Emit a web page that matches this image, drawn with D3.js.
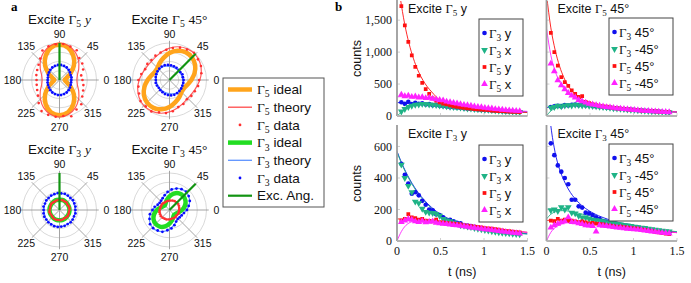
<!DOCTYPE html>
<html><head><meta charset="utf-8">
<script src="https://cdn.jsdelivr.net/npm/d3@7"></script>
<style>body{margin:0;background:#fff}svg{display:block}text{white-space:pre}</style>
</head><body>
<svg id="c" width="691" height="283"></svg>
<script>
// ---------------- DATA: panel a (polar, normalised radius) ----------------
const anglesFit  = [0,15,30,45,60,75,90,105,120,135,150,165,180,195,210,225,240,255,270,285,300,315,330,345];
const anglesData = [0,12,24,36,48,60,72,84,96,108,120,132,144,156,168,180,192,204,216,228,240,252,264,276,288,300,312,324,336,348];
const ringValues = [0.25,0.5,0.75,1];
const angleLabels = [0,45,90,135,180,225,270,315];
// Excite Γ5 y
const p1Ideal = [0.14,0.19,0.34,0.55,0.75,0.90,0.95,0.90,0.75,0.55,0.34,0.19,0.14,0.19,0.34,0.55,0.75,0.90,0.95,0.90,0.75,0.55,0.34,0.19];
const p1Fit5  = [0.47,0.50,0.60,0.73,0.86,0.96,1.00,0.96,0.86,0.73,0.60,0.50,0.47,0.50,0.60,0.73,0.86,0.96,1.00,0.96,0.86,0.73,0.60,0.50];
const p1Data5 = [0.62,0.60,0.70,0.76,0.80,0.93,0.95,0.98,0.97,0.96,0.92,0.78,0.70,0.66,0.64,0.62,0.63,0.66,0.72,0.84,0.97,0.99,1.00,0.98,1.03,0.92,0.88,0.76,0.70,0.66];
const p1Fit3  = [0.31,0.32,0.33,0.35,0.37,0.385,0.39,0.385,0.37,0.35,0.33,0.32,0.31,0.32,0.33,0.35,0.37,0.385,0.39,0.385,0.37,0.35,0.33,0.32];
const p1Data3 = [0.32,0.33,0.33,0.35,0.37,0.39,0.40,0.41,0.41,0.40,0.39,0.37,0.35,0.34,0.32,0.32,0.33,0.34,0.35,0.37,0.39,0.40,0.41,0.41,0.40,0.39,0.37,0.35,0.33,0.32];
// Excite Γ5 45°
const p2Ideal = [0.59,0.70,0.80,0.86,0.87,0.82,0.73,0.62,0.53,0.46,0.45,0.50,0.59,0.70,0.80,0.86,0.87,0.82,0.73,0.62,0.53,0.46,0.45,0.50];
const p2Fit5  = [0.82,0.89,0.95,0.98,0.97,0.93,0.86,0.79,0.73,0.70,0.71,0.75,0.82,0.89,0.95,0.98,0.97,0.93,0.86,0.79,0.73,0.70,0.71,0.75];
const p2Data5 = [0.80,0.88,0.93,0.95,0.99,0.95,0.92,0.87,0.82,0.78,0.76,0.73,0.74,0.72,0.78,0.84,0.86,0.90,0.97,0.96,0.98,0.92,0.90,0.85,0.77,0.75,0.70,0.73,0.75,0.79];
const p2Fit3  = [0.36,0.35,0.35,0.35,0.35,0.36,0.37,0.39,0.40,0.40,0.39,0.38,0.36,0.35,0.35,0.35,0.35,0.36,0.37,0.39,0.40,0.40,0.39,0.38];
const p2Data3 = [0.38,0.37,0.38,0.36,0.37,0.38,0.39,0.40,0.41,0.42,0.42,0.41,0.40,0.39,0.38,0.37,0.38,0.37,0.36,0.37,0.38,0.40,0.41,0.42,0.42,0.41,0.40,0.39,0.38,0.38];
// Excite Γ3 y
const p3Ideal = [0.27,0.27,0.27,0.27,0.28,0.28,0.28,0.28,0.28,0.27,0.27,0.27,0.27,0.27,0.27,0.27,0.28,0.28,0.28,0.28,0.28,0.27,0.27,0.27];
const p3Fit5  = [0.26,0.26,0.26,0.27,0.27,0.27,0.27,0.27,0.27,0.27,0.26,0.26,0.26,0.26,0.26,0.27,0.27,0.27,0.27,0.27,0.27,0.27,0.26,0.26];
const p3Data5 = [0.27,0.28,0.27,0.26,0.28,0.27,0.28,0.27,0.28,0.27,0.26,0.27,0.28,0.27,0.26,0.27,0.28,0.27,0.26,0.27,0.28,0.28,0.27,0.28,0.27,0.26,0.27,0.28,0.27,0.26];
const p3Fit3  = [0.42,0.42,0.43,0.44,0.44,0.45,0.45,0.45,0.44,0.44,0.43,0.42,0.42,0.42,0.43,0.44,0.44,0.45,0.45,0.45,0.44,0.44,0.43,0.42];
const p3Data3 = [0.43,0.44,0.44,0.45,0.44,0.45,0.46,0.45,0.46,0.45,0.45,0.44,0.44,0.43,0.44,0.43,0.44,0.45,0.44,0.45,0.45,0.46,0.46,0.45,0.45,0.44,0.45,0.44,0.43,0.44];
// Excite Γ3 45°
const p4Ideal = [0.34,0.43,0.50,0.53,0.52,0.46,0.37,0.28,0.21,0.18,0.20,0.25,0.34,0.43,0.50,0.53,0.52,0.46,0.37,0.28,0.21,0.18,0.20,0.25];
const p4Fit5  = [0.25,0.26,0.27,0.27,0.27,0.26,0.25,0.24,0.24,0.24,0.24,0.24,0.25,0.26,0.27,0.27,0.27,0.26,0.25,0.24,0.24,0.24,0.24,0.24];
const p4Data5 = [0.26,0.27,0.28,0.29,0.28,0.28,0.27,0.26,0.25,0.25,0.24,0.25,0.26,0.25,0.26,0.27,0.28,0.28,0.29,0.28,0.27,0.27,0.26,0.25,0.24,0.25,0.25,0.24,0.26,0.26];
const p4Fit3  = [0.46,0.55,0.62,0.66,0.65,0.60,0.52,0.43,0.36,0.32,0.33,0.38,0.46,0.55,0.62,0.66,0.65,0.60,0.52,0.43,0.36,0.32,0.33,0.38];
const p4Data3 = [0.47,0.53,0.60,0.64,0.67,0.65,0.61,0.56,0.49,0.42,0.37,0.34,0.33,0.35,0.41,0.46,0.54,0.59,0.65,0.66,0.64,0.62,0.55,0.50,0.43,0.36,0.33,0.34,0.36,0.40];
const excAngles = [90,45,90,45];

// ---------------- DATA: panel b (counts vs t in ns) ----------------
const tData = [0.05,0.09,0.13,0.17,0.21,0.25,0.29,0.33,0.37,0.41,0.45,0.49,0.53,0.57,0.61,0.65,0.69,0.73,0.77,0.81,0.85,0.89,0.93,0.97,1.01,1.05,1.09,1.13,1.17,1.21,1.25,1.29,1.33,1.37,1.41];
const tFit  = [0,0.05,0.1,0.15,0.2,0.25,0.3,0.35,0.4,0.5,0.6,0.7,0.8,0.9,1.0,1.1,1.2,1.3,1.4,1.5];
const xTicks = [0,0.5,1,1.5];
const yTicksTop = [0,500,1000,1500];
const yTicksBottom = [0,200,400,600];
// Excite Γ5 y
const e5y_G3y = [215,190,220,185,205,190,200,180,185,170,175,160,155,150,140,138,130,128,120,115,110,105,100,95,92,90,85,82,80,76,72,70,68,64,62];
const e5y_G3x = [70,110,140,160,175,180,190,185,180,175,170,165,160,150,145,140,135,130,125,118,115,110,105,100,98,95,90,85,82,78,75,72,68,65,62];
const e5y_G5y = [1720,1420,1160,950,770,630,520,420,345,275,240,215,195,180,165,152,142,135,128,120,114,108,103,98,94,90,86,82,78,75,72,69,66,63,60];
const e5y_G5x = [335,310,320,300,305,290,295,280,285,270,260,250,245,225,215,205,195,185,175,168,160,150,142,138,128,122,118,108,104,98,92,88,84,80,76];
const e5y_G3y_fit = [210,208,205,202,198,193,188,182,175,162,148,135,122,110,100,91,82,75,68,62];
const e5y_G3x_fit = [0,60,110,145,168,180,185,185,182,170,155,140,126,113,101,91,82,74,67,61];
const e5y_G5y_fit = [2230,1740,1360,1075,855,685,555,455,375,240,180,148,125,108,95,85,76,68,62,56];
const e5y_G5x_fit = [300,303,305,303,300,293,285,275,265,240,215,190,168,148,130,115,102,90,80,72];
// Excite Γ5 45°
const e545_G3p = [140,150,160,150,170,165,175,180,170,200,165,170,155,150,148,140,132,130,122,118,112,108,104,100,95,90,86,82,80,76,72,70,66,62,60];
const e545_G3m = [130,140,160,150,165,170,165,175,170,165,168,160,155,150,145,140,135,128,122,118,112,108,102,98,95,90,86,82,78,75,72,68,64,60,58];
const e545_G5p = [1300,1000,790,610,530,470,400,345,300,310,220,200,185,170,160,150,145,135,128,120,115,108,102,100,95,90,85,82,78,75,72,68,65,62,60];
const e545_G5m = [820,700,560,480,420,360,320,290,250,230,210,190,180,170,160,150,140,135,128,120,115,110,105,100,95,90,85,80,78,75,72,68,65,62,58];
const e545_G3p_fit = [130,150,160,168,172,174,174,172,168,158,146,134,122,111,100,91,83,75,68,62];
const e545_G3m_fit = [0,80,120,145,158,165,168,168,166,158,147,135,123,112,101,92,83,75,68,62];
const e545_G5p_fit = [1900,1380,1030,780,600,470,380,315,265,205,170,148,130,115,103,93,84,76,69,63];
const e545_G5m_fit = [1370,950,700,540,430,355,300,262,235,195,168,147,130,115,103,93,84,76,69,63];
// Excite Γ3 y
const e3y_G3y = [490,420,365,300,310,290,255,230,200,195,170,165,150,130,135,125,115,112,100,98,95,90,86,80,78,72,70,66,62,58,56,52,50,48,46];
const e3y_G3x = [485,400,350,310,250,240,205,185,180,178,172,160,140,130,125,118,110,100,96,92,88,82,78,74,70,66,62,58,55,52,50,48,46,44,42];
const e3y_G5y = [130,140,170,150,145,135,140,130,128,125,135,120,118,115,112,110,108,105,100,98,95,92,90,86,82,80,78,75,72,68,65,62,60,56,54];
const e3y_G5x = [120,130,140,135,125,120,128,118,122,125,115,112,110,108,105,102,100,96,94,90,86,84,80,78,75,72,70,66,64,60,58,55,52,50,48];
const e3y_G3y_fit = [570,500,440,388,342,302,268,238,212,170,140,117,100,87,77,68,61,55,50,46];
const e3y_G3x_fit = [565,495,435,382,336,296,262,232,206,165,135,113,97,84,74,66,59,53,48,44];
const e3y_G5y_fit = [140,140,140,139,137,135,132,129,126,119,112,104,97,90,83,77,71,65,60,55];
const e3y_G5x_fit = [0,60,98,118,127,130,130,129,127,120,112,104,97,90,83,77,71,65,60,55];
// Excite Γ3 45°
const e345_G3p = [620,545,480,440,400,360,262,262,220,212,180,175,165,150,140,125,122,115,108,105,100,98,96,92,88,85,80,76,72,68,64,60,58,55,52];
const e345_G3m = [195,200,190,215,200,215,180,175,160,150,148,140,135,132,128,125,120,115,112,108,105,100,98,95,90,88,85,82,78,75,72,68,65,62,60];
const e345_G5p = [130,125,140,130,135,128,130,125,120,125,118,112,115,110,108,105,100,98,95,90,92,88,85,82,80,78,72,70,66,62,58,55,50,46,44];
const e345_G5m = [85,100,110,118,125,150,120,118,112,108,100,98,95,60,100,96,95,92,88,86,84,80,78,76,74,72,70,66,64,60,58,55,52,50,48];
const e345_G3p_fit = [1000,730,560,455,385,330,288,255,228,188,160,139,122,108,96,86,77,69,62,56];
const e345_G3m_fit = [140,170,185,192,193,190,185,179,172,158,145,132,120,109,99,89,80,72,65,59];
const e345_G5p_fit = [130,133,135,135,134,132,130,127,124,117,110,102,95,88,81,75,69,63,58,53];
const e345_G5m_fit = [0,55,85,103,113,118,120,120,119,114,108,101,94,87,81,75,69,63,58,53];

// ---------------- RENDERING ----------------
const SANS = "'Liberation Sans', Arial, Helvetica, sans-serif";
const SERIF = "'Liberation Serif', 'Times New Roman', serif";
const svg = d3.select('#c');

function rich(g, x, y, size, anchor, segs){
  const t = g.append('text').attr('x',x).attr('y',y).attr('font-size',size)
    .attr('text-anchor',anchor).attr('font-family',SANS).attr('fill','#111');
  let shifted = false;
  segs.forEach(([s,k])=>{
    const sp = t.append('tspan').text(s);
    if(k==='g'||k==='r') sp.attr('font-family',SERIF);
    if(k==='i') sp.attr('font-family',SERIF).attr('font-style','italic');
    if(k==='sub'){ sp.attr('font-family',SERIF).attr('font-size',size*0.72).attr('dy',size*0.25); shifted=true; }
    else if(shifted){ sp.attr('dy',-size*0.25); shifted=false; }
  });
  return t;
}

// panel labels
svg.append('text').attr('x',11).attr('y',11).attr('font-family',SERIF).attr('font-weight','bold').attr('font-size',13).text('a');
svg.append('text').attr('x',335).attr('y',11).attr('font-family',SERIF).attr('font-weight','bold').attr('font-size',13).text('b');

// ---- polar panels
const C = {orange:'#ffa41c', green:'#22dd22', red:'#ff3030', redFit:'#ff4a4a', blue:'#0a0aff', blueFit:'#5d93ff', exc:'#129412'};
const R = 37;
const rScale = d3.scaleLinear().domain([0,1]).range([0,R]);
const polarCfg = [
  {cx:59.5, cy:80,  title:[['Excite '],['Γ','g'],['5','sub'],[' '],['y','i']],  ideal:p1Ideal, idealColor:C.orange, fit5:p1Fit5, data5:p1Data5, fit3:p1Fit3, data3:p1Data3, exc:excAngles[0]},
  {cx:169.5,cy:80,  title:[['Excite '],['Γ','g'],['5','sub'],[' '],['45°','r']], ideal:p2Ideal, idealColor:C.orange, fit5:p2Fit5, data5:p2Data5, fit3:p2Fit3, data3:p2Data3, exc:excAngles[1]},
  {cx:59.5, cy:210, title:[['Excite '],['Γ','g'],['3','sub'],[' '],['y','i']],  ideal:p3Ideal, idealColor:C.green,  fit5:p3Fit5, data5:p3Data5, fit3:p3Fit3, data3:p3Data3, exc:excAngles[2]},
  {cx:169.5,cy:210, title:[['Excite '],['Γ','g'],['3','sub'],[' '],['45°','r']], ideal:p4Ideal, idealColor:C.green,  fit5:p4Fit5, data5:p4Data5, fit3:p4Fit3, data3:p4Data3, exc:excAngles[3]},
];
const rad = d => d*Math.PI/180;
polarCfg.forEach(p=>{
  const g = svg.append('g').attr('transform',`translate(${p.cx},${p.cy})`);
  const px = (a,r)=> rScale(r)*Math.cos(rad(a));
  const py = (a,r)=> -rScale(r)*Math.sin(rad(a));
  g.selectAll('circle.ring').data(ringValues).join('circle').attr('r',d=>rScale(d))
    .attr('fill','none').attr('stroke','#cfcfcf').attr('stroke-width',0.8);
  g.selectAll('line.spoke').data(angleLabels).join('line')
    .attr('x1',0).attr('y1',0).attr('x2',d=>px(d,1.06)).attr('y2',d=>py(d,1.06))
    .attr('stroke','#9a9a9a').attr('stroke-width',0.9);
  g.selectAll('text.al').data(angleLabels).join('text')
    .attr('x',d=>px(d,1.27)).attr('y',d=>py(d,1.27)+(d===90?1:0)).attr('dy','0.35em')
    .attr('text-anchor','middle').attr('font-family',SANS).attr('font-size',10.5).attr('fill','#111')
    .text(d=>d);
  const closed = (angles, vals)=> d3.line().x((d,i)=>px(angles[i],d)).y((d,i)=>py(angles[i],d)).curve(d3.curveCardinalClosed.tension(0.2))(vals);
  g.append('path').attr('d',closed(anglesFit,p.ideal)).attr('fill','none').attr('stroke',p.idealColor).attr('stroke-width',4.5);
  g.append('path').attr('d',closed(anglesFit,p.fit5)).attr('fill','none').attr('stroke',C.redFit).attr('stroke-width',1.2).attr('opacity',0.9);
  g.append('path').attr('d',closed(anglesFit,p.fit3)).attr('fill','none').attr('stroke',C.blueFit).attr('stroke-width',1.2);
  g.selectAll('circle.d5').data(p.data5).join('circle').attr('cx',(d,i)=>px(anglesData[i],d)).attr('cy',(d,i)=>py(anglesData[i],d))
    .attr('r',1.3).attr('fill',C.red);
  g.selectAll('circle.d3').data(p.data3).join('circle').attr('cx',(d,i)=>px(anglesData[i],d)).attr('cy',(d,i)=>py(anglesData[i],d))
    .attr('r',1.4).attr('fill',C.blue);
  g.append('line').attr('x1',0).attr('y1',0).attr('x2',px(p.exc,1)).attr('y2',py(p.exc,1))
    .attr('stroke',C.exc).attr('stroke-width',2.2);
  rich(svg, p.cx, p.cy-56, 13.5, 'middle', p.title);
});

// ---- legend panel a
const legA = [
  {k:'thick', c:C.orange, sub:'5', label:' ideal'},
  {k:'thin',  c:C.redFit, sub:'5', label:' theory'},
  {k:'dot',   c:C.red,    sub:'5', label:' data'},
  {k:'thick', c:C.green,  sub:'3', label:' ideal'},
  {k:'thin',  c:C.blueFit,sub:'3', label:' theory'},
  {k:'dot',   c:C.blue,   sub:'3', label:' data'},
  {k:'exc',   c:C.exc,    sub:null, label:'Exc. Ang.'},
];
const lgA = svg.append('g');
lgA.append('rect').attr('x',223).attr('y',78).attr('width',101).attr('height',129).attr('fill','#fff').attr('stroke','#555').attr('stroke-width',1);
legA.forEach((e,i)=>{
  const y = 89.5 + i*17.7;
  if(e.k==='dot') lgA.append('circle').attr('cx',240).attr('cy',y).attr('r',1.4).attr('fill',e.c);
  else lgA.append('line').attr('x1',228).attr('x2',252).attr('y1',y).attr('y2',y).attr('stroke',e.c)
        .attr('stroke-width',e.k==='thick'?4.5:(e.k==='exc'?2.2:1.3));
  const segs = e.sub ? [['Γ','g'],[e.sub,'sub'],[e.label]] : [[e.label]];
  rich(lgA, 257, y+4.6, 13.5, 'start', segs);
});

// ---- panel b
const S = {blue:'#1010ee', green:'#1fb386', red:'#ff1010', mag:'#ff22ff'};
const sym = {
  circle: d3.symbol().type(d3.symbolCircle).size(17)(),
  tri:    d3.symbol().type(d3.symbolTriangle).size(20)(),
  square: d3.symbol().type(d3.symbolSquare).size(14)(),
};
function seriesDefs(a,b,c,d,fa,fb,fc,fd){
  return [
    {data:a, fit:fa, color:S.blue,  shape:'circle', rot:0},
    {data:b, fit:fb, color:S.green, shape:'tri',    rot:180},
    {data:c, fit:fc, color:S.red,   shape:'square', rot:0},
    {data:d, fit:fd, color:S.mag,   shape:'tri',    rot:0},
  ];
}
const plots = [
  {x0:397, y0:1,   yMax:1800, yTicks:yTicksTop,    showY:true, showX:false,
   title:[['Excite '],['Γ','g'],['5','sub'],[' y']], legX:479, legY:19, legW:44,
   labels:[[['Γ','g'],['3','sub'],[' y']],[['Γ','g'],['3','sub'],[' x']],[['Γ','g'],['5','sub'],[' y']],[['Γ','g'],['5','sub'],[' x']]],
   series:seriesDefs(e5y_G3y,e5y_G3x,e5y_G5y,e5y_G5x,e5y_G3y_fit,e5y_G3x_fit,e5y_G5y_fit,e5y_G5x_fit)},
  {x0:546.5, y0:1, yMax:1800, yTicks:yTicksTop,    showY:false, showX:false,
   title:[['Excite '],['Γ','g'],['5','sub'],[' 45°']], legX:609, legY:18, legW:64,
   labels:[[['Γ','g'],['3','sub'],[' 45°']],[['Γ','g'],['3','sub'],[' -45°']],[['Γ','g'],['5','sub'],[' 45°']],[['Γ','g'],['5','sub'],[' -45°']]],
   series:seriesDefs(e545_G3p,e545_G3m,e545_G5p,e545_G5m,e545_G3p_fit,e545_G3m_fit,e545_G5p_fit,e545_G5m_fit)},
  {x0:397, y0:126, yMax:730,  yTicks:yTicksBottom, showY:true, showX:true,
   title:[['Excite '],['Γ','g'],['3','sub'],[' y']], legX:479, legY:145, legW:44,
   labels:[[['Γ','g'],['3','sub'],[' y']],[['Γ','g'],['3','sub'],[' x']],[['Γ','g'],['5','sub'],[' y']],[['Γ','g'],['5','sub'],[' x']]],
   series:seriesDefs(e3y_G3y,e3y_G3x,e3y_G5y,e3y_G5x,e3y_G3y_fit,e3y_G3x_fit,e3y_G5y_fit,e3y_G5x_fit)},
  {x0:546.5, y0:126, yMax:730, yTicks:yTicksBottom, showY:false, showX:true,
   title:[['Excite '],['Γ','g'],['3','sub'],[' 45°']], legX:609, legY:144, legW:64,
   labels:[[['Γ','g'],['3','sub'],[' 45°']],[['Γ','g'],['3','sub'],[' -45°']],[['Γ','g'],['5','sub'],[' 45°']],[['Γ','g'],['5','sub'],[' -45°']]],
   series:seriesDefs(e345_G3p,e345_G3m,e345_G5p,e345_G5m,e345_G3p_fit,e345_G3m_fit,e345_G5p_fit,e345_G5m_fit)},
];
const W = 130.5, H = 115;
const fmtY = d3.format(',');
plots.forEach((p,pi)=>{
  const x = d3.scaleLinear().domain([0,1.5]).range([p.x0, p.x0+W]);
  const y = d3.scaleLinear().domain([0,p.yMax]).range([p.y0+H, p.y0]);
  const g = svg.append('g');
  const cid = 'clip'+pi;
  svg.append('clipPath').attr('id',cid).append('rect').attr('x',p.x0).attr('y',p.y0).attr('width',W).attr('height',H);
  g.selectAll('line.xt').data(xTicks).join('line').attr('x1',d=>x(d)).attr('x2',d=>x(d))
    .attr('y1',p.y0+H).attr('y2',p.y0+H-3).attr('stroke','#c4c4c4').attr('stroke-width',0.8);
  g.selectAll('line.yt').data(p.yTicks).join('line').attr('x1',p.x0).attr('x2',p.x0+3)
    .attr('y1',d=>y(d)).attr('y2',d=>y(d)).attr('stroke','#c4c4c4').attr('stroke-width',0.8);
  const pg = g.append('g').attr('clip-path',`url(#${cid})`);
  const line = d3.line().x((d,i)=>x(tFit[i])).y(d=>y(d)).curve(d3.curveMonotoneX);
  p.series.forEach(s=>{
    pg.append('path').attr('d',line(s.fit)).attr('fill','none').attr('stroke',s.color).attr('stroke-width',0.9);
  });
  p.series.forEach(s=>{
    pg.selectAll(null).data(s.data).join('path').attr('d',sym[s.shape])
      .attr('transform',(d,i)=>`translate(${x(tData[i])},${y(d)}) rotate(${s.rot})`)
      .attr('fill',s.color);
  });
  g.append('line').attr('x1',p.x0).attr('x2',p.x0).attr('y1',p.y0-1).attr('y2',p.y0+H).attr('stroke','#9c9c9c').attr('stroke-width',1.8);
  g.append('line').attr('x1',p.x0).attr('x2',p.x0+W).attr('y1',p.y0+H).attr('y2',p.y0+H).attr('stroke','#b4b4b4').attr('stroke-width',1.8);
  if(p.showY){
    g.selectAll('text.yl').data(p.yTicks).join('text').attr('x',p.x0-5).attr('y',d=>y(d)).attr('dy','0.35em')
      .attr('text-anchor','end').attr('font-family',SERIF).attr('font-size',12).attr('fill','#111').text(d=>fmtY(d));
    svg.append('text').attr('transform',`translate(${p.x0-40},${p.y0+H/2}) rotate(-90)`).attr('text-anchor','middle')
      .attr('dy','0.35em').attr('font-family',SANS).attr('font-size',12.5).attr('fill','#111').text('counts');
  }
  if(p.showX){
    g.selectAll('text.xl').data(xTicks).join('text').attr('x',d=>x(d)).attr('y',p.y0+H+13.5)
      .attr('text-anchor','middle').attr('font-family',SERIF).attr('font-size',12).attr('fill','#111').text(d=>d);
    svg.append('text').attr('x',p.x0+W/2).attr('y',p.y0+H+35).attr('text-anchor','middle')
      .attr('font-family',SANS).attr('font-size',12.5).attr('fill','#111').text('t (ns)');
  }
  rich(g, p.x0+11, p.y0+11.5, 12.5, 'start', p.title);
  const lg = svg.append('g');
  lg.append('rect').attr('x',p.legX).attr('y',p.legY).attr('width',p.legW).attr('height',77)
    .attr('fill','#fff').attr('stroke','#444').attr('stroke-width',1);
  p.series.forEach((s,i)=>{
    const yy = p.legY + 14 + i*17;
    lg.append('path').attr('d',sym[s.shape]).attr('transform',`translate(${p.legX+5.5},${yy}) rotate(${s.rot})`).attr('fill',s.color);
    rich(lg, p.legX+10, yy+4.5, 13, 'start', p.labels[i]);
  });
});
</script>
</body></html>
